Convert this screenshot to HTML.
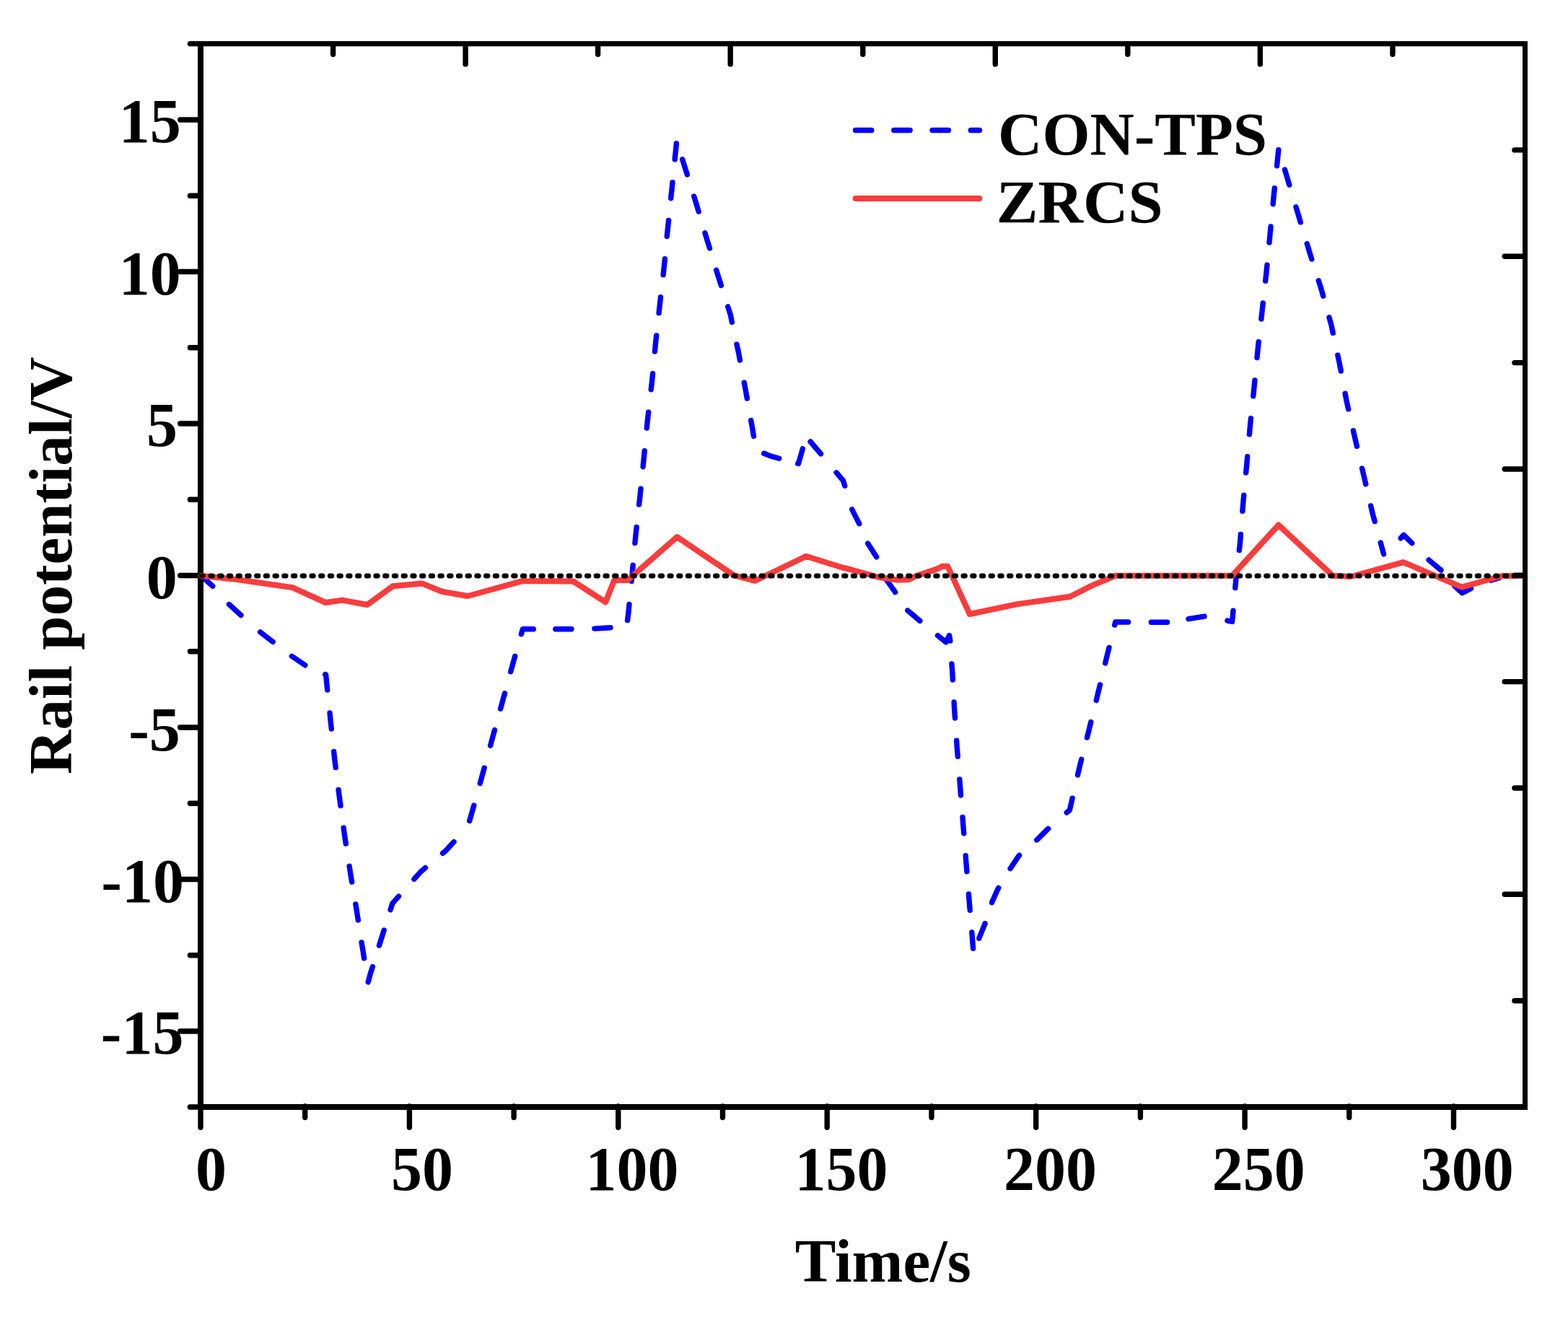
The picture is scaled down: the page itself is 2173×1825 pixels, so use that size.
<!DOCTYPE html>
<html lang="en"><head><meta charset="utf-8"><title>Rail potential: CON-TPS vs ZRCS</title>
<style>html,body{margin:0;padding:0;background:#fff;}svg{display:block;}text{font-family:"Liberation Serif","DejaVu Serif",serif;font-weight:bold;fill:#000;}</style>
</head><body>
<svg xmlns="http://www.w3.org/2000/svg" width="2173" height="1825" viewBox="0 0 2173 1825">
<rect x="0" y="0" width="2173" height="1825" fill="#ffffff"/>
<g fill="none" stroke-linejoin="round" stroke-linecap="round">
<g stroke="#0000ff" stroke-width="7.4">
<polyline points="278.5,797.8 294.8,812.3"/>
<polyline points="317.5,837.6 333.9,852.5"/>
<polyline points="360.6,875.8 378.1,889.4"/>
<polyline points="404.4,909.3 422.8,921.8"/>
<polyline points="450.7,934.5 451.6,934.9 453.7,956.0"/>
<polyline points="457.0,988.0 458.1,999.0 459.3,1010.1"/>
<polyline points="462.6,1041.5 463.8,1052.5 465.2,1063.6"/>
<polyline points="469.1,1094.5 470.5,1105.5 472.0,1116.6"/>
<polyline points="476.1,1147.1 477.6,1158.1 479.3,1169.1"/>
<polyline points="484.1,1200.3 485.8,1211.2 487.6,1222.2"/>
<polyline points="492.8,1253.0 494.6,1263.9 496.3,1274.9"/>
<polyline points="501.1,1306.0 502.9,1317.0 504.6,1327.9"/>
<polyline points="510.2,1360.9 513.0,1350.2 516.4,1339.6"/>
<polyline points="525.5,1310.1 528.8,1299.6 532.2,1289.0"/>
<polyline points="541.1,1260.6 543.8,1251.9 552.5,1242.1"/>
<polyline points="573.9,1218.2 582.9,1208.1 589.5,1202.5"/>
<polyline points="613.5,1182.4 618.1,1178.6 629.0,1166.6"/>
<polyline points="650.7,1137.4 653.8,1126.7 656.8,1116.0"/>
<polyline points="665.3,1085.5 668.2,1074.8 671.2,1064.1"/>
<polyline points="679.6,1033.1 682.5,1022.4 685.5,1011.6"/>
<polyline points="693.6,982.2 696.5,971.5 699.5,960.8"/>
<polyline points="707.7,930.7 710.7,920.0 713.7,909.3"/>
<polyline points="722.4,878.8 724.4,871.8 739.3,871.8"/>
<polyline points="769.8,871.8 792.0,871.8"/>
<polyline points="823.9,871.1 846.0,869.8"/>
<polyline points="869.6,859.6 871.0,848.5 872.0,837.5"/>
<polyline points="875.1,805.4 876.2,794.4 877.2,783.3"/>
<polyline points="879.9,752.5 881.0,741.4 882.2,730.4"/>
<polyline points="885.6,699.1 886.9,688.1 888.0,677.1"/>
<polyline points="891.1,646.7 892.2,635.7 893.3,624.7"/>
<polyline points="896.3,593.1 897.4,582.1 898.7,571.1"/>
<polyline points="902.2,539.8 903.5,528.8 904.6,517.7"/>
<polyline points="907.5,487.0 908.5,476.0 909.7,465.0"/>
<polyline points="913.1,433.9 914.3,422.9 915.5,411.8"/>
<polyline points="919.1,380.8 920.3,369.8 921.4,358.8"/>
<polyline points="924.3,327.5 925.4,316.5 926.6,305.5"/>
<polyline points="929.7,274.7 930.9,263.7 932.0,252.7"/>
<polyline points="935.2,220.9 937.4,198.8"/>
<polyline points="945.7,220.8 949.0,231.4 952.4,242.0"/>
<polyline points="961.7,272.0 965.0,282.6 968.2,293.2"/>
<polyline points="977.0,322.8 980.2,333.4 983.5,344.0"/>
<polyline points="992.7,374.3 996.0,384.9 999.4,395.5"/>
<polyline points="1008.7,424.9 1012.1,435.5 1014.4,446.4"/>
<polyline points="1021.0,477.2 1023.4,488.1 1025.4,499.0"/>
<polyline points="1031.3,530.2 1033.4,541.2 1035.3,552.1"/>
<polyline points="1040.7,582.6 1042.7,593.5 1044.5,604.4"/>
<polyline points="1058.7,628.3 1067.6,631.9 1079.7,635.2"/>
<polyline points="1105.7,642.3 1106.5,642.5 1112.3,621.9"/>
<polyline points="1123.1,612.0 1137.5,628.9"/>
<polyline points="1159.1,654.8 1168.6,666.2 1170.7,673.2"/>
<polyline points="1180.7,705.8 1190.7,725.6"/>
<polyline points="1202.6,753.1 1214.7,771.8"/>
<polyline points="1228.0,802.5 1228.4,803.4 1240.2,819.9 1240.7,820.7"/>
<polyline points="1257.8,846.0 1274.9,860.3"/>
<polyline points="1299.5,880.7 1311.0,889.8 1315.6,880.5 1316.8,888.0"/>
<polyline points="1318.9,919.9 1319.8,931.0 1320.4,942.0"/>
<polyline points="1322.1,972.9 1322.7,984.0 1323.5,995.1"/>
<polyline points="1325.6,1026.1 1326.4,1037.2 1327.3,1048.2"/>
<polyline points="1329.8,1079.9 1330.7,1091.0 1331.5,1102.0"/>
<polyline points="1334.0,1132.5 1334.8,1143.6 1335.7,1154.7"/>
<polyline points="1338.2,1185.6 1339.0,1196.7 1339.9,1207.8"/>
<polyline points="1342.4,1239.0 1343.3,1250.1 1344.2,1261.2"/>
<polyline points="1346.8,1292.0 1348.6,1314.2"/>
<polyline points="1356.8,1300.3 1356.8,1300.1 1365.1,1279.9 1365.1,1279.7"/>
<polyline points="1374.6,1250.7 1375.0,1249.5 1383.1,1231.5 1383.7,1230.4"/>
<polyline points="1400.1,1203.5 1400.5,1203.0 1412.1,1185.6 1412.6,1185.2"/>
<polyline points="1436.8,1163.9 1437.8,1163.1 1451.7,1149.2 1452.7,1148.4"/>
<polyline points="1478.2,1126.1 1482.4,1122.4 1486.1,1106.2"/>
<polyline points="1493.5,1073.9 1496.0,1063.1 1498.7,1052.3"/>
<polyline points="1506.5,1022.1 1509.2,1011.4 1511.8,1000.6"/>
<polyline points="1519.3,970.4 1521.9,959.6 1524.5,948.9"/>
<polyline points="1531.7,918.9 1534.3,908.1 1537.0,897.4"/>
<polyline points="1544.7,866.1 1545.7,861.9 1563.6,862.0"/>
<polyline points="1595.4,862.2 1617.6,862.3"/>
<polyline points="1647.1,857.7 1669.0,854.1"/>
<polyline points="1701.0,860.1 1707.6,861.5 1709.0,846.1"/>
<polyline points="1711.8,814.6 1712.8,803.5 1714.0,792.5"/>
<polyline points="1717.4,762.5 1718.6,751.5 1719.4,740.4"/>
<polyline points="1721.9,708.2 1722.8,697.1 1723.8,686.1"/>
<polyline points="1726.7,655.0 1727.8,643.9 1728.7,632.8"/>
<polyline points="1731.4,601.9 1732.4,590.8 1733.5,579.8"/>
<polyline points="1736.8,548.9 1737.9,537.9 1739.0,526.9"/>
<polyline points="1742.0,495.6 1743.1,484.6 1744.3,473.6"/>
<polyline points="1747.9,442.0 1749.1,430.9 1750.3,419.9"/>
<polyline points="1753.7,389.3 1754.9,378.3 1756.0,367.2"/>
<polyline points="1759.0,336.1 1760.0,325.1 1761.1,314.0"/>
<polyline points="1764.2,282.7 1765.2,271.7 1766.4,260.7"/>
<polyline points="1769.6,229.7 1771.8,207.6"/>
<polyline points="1780.5,235.0 1783.7,245.7 1786.8,256.3"/>
<polyline points="1796.0,286.8 1799.2,297.4 1802.3,308.0"/>
<polyline points="1811.3,337.8 1814.5,348.4 1817.8,359.0"/>
<polyline points="1827.3,388.9 1830.7,399.5 1833.7,410.2"/>
<polyline points="1842.0,439.8 1845.0,450.5 1847.3,461.4"/>
<polyline points="1853.9,492.2 1856.2,503.1 1858.3,514.0"/>
<polyline points="1864.1,545.3 1866.2,556.2 1868.7,567.0"/>
<polyline points="1875.4,596.8 1877.9,607.6 1880.4,618.4"/>
<polyline points="1887.6,649.2 1890.2,660.0 1892.7,670.8"/>
<polyline points="1899.7,700.9 1902.2,711.8 1905.2,722.5"/>
<polyline points="1913.3,752.0 1917.6,767.9"/>
<polyline points="1941.2,745.8 1945.3,741.3 1956.7,752.7"/>
<polyline points="1980.1,776.0 1997.0,790.2"/>
<polyline points="2015.5,811.8 2026.4,821.8 2038.5,815.4"/>
<polyline points="2066.0,804.2 2077.0,801.0"/>
</g>
<polyline points="278.5,797.8 330.0,803.2 405.2,814.1 451.2,835.0 474.0,831.6 508.8,838.0 544.3,812.2 584.5,808.4 612.6,819.8 648.1,826.0 722.9,805.3 794.2,805.4 839.1,834.4 851.3,803.9 869.8,803.9 938.3,744.0 981.5,773.4 1016.7,797.0 1046.0,805.0 1117.0,770.8 1167.5,786.5 1180.0,789.5 1218.0,800.0 1244.8,803.8 1260.0,802.9 1269.5,798.1 1298.0,788.6 1305.7,784.8 1313.3,784.8 1343.8,851.0 1408.6,837.4 1482.9,826.7 1513.3,811.4 1545.7,797.7 1707.6,797.7 1771.8,727.5 1846.7,797.7 1872.4,799.0 1944.8,779.1 2025.8,813.6 2081.7,798.0 2110.0,798.0" stroke="#fb3c3c" stroke-width="8" stroke-linecap="butt"/>
<line x1="279.2" y1="797.9" x2="2112" y2="797.9" stroke="#000" stroke-width="7.0" stroke-dasharray="2.4 10.32"/>
</g>
<g fill="#000" stroke="none">
<rect x="274" y="57" width="8" height="1481"/>
<rect x="2110" y="57" width="7" height="1481"/>
<rect x="274" y="57" width="1843" height="7.2"/>
<rect x="274" y="1530" width="1843" height="8"/>
</g>
<g fill="none" stroke="#000" stroke-linecap="round" stroke-width="7.4">
<line x1="278.0" y1="1533" x2="278.0" y2="1562.3"/>
<line x1="422.7" y1="1533" x2="422.7" y2="1548.6"/>
<line x1="567.4" y1="1533" x2="567.4" y2="1562.3"/>
<line x1="712.1" y1="1533" x2="712.1" y2="1548.6"/>
<line x1="856.8" y1="1533" x2="856.8" y2="1562.3"/>
<line x1="1001.5" y1="1533" x2="1001.5" y2="1548.6"/>
<line x1="1146.2" y1="1533" x2="1146.2" y2="1562.3"/>
<line x1="1291.0" y1="1533" x2="1291.0" y2="1548.6"/>
<line x1="1435.7" y1="1533" x2="1435.7" y2="1562.3"/>
<line x1="1580.4" y1="1533" x2="1580.4" y2="1548.6"/>
<line x1="1725.1" y1="1533" x2="1725.1" y2="1562.3"/>
<line x1="1869.8" y1="1533" x2="1869.8" y2="1548.6"/>
<line x1="2014.5" y1="1533" x2="2014.5" y2="1562.3"/>
<line x1="278.5" y1="1534.0" x2="263.4" y2="1534.0"/>
<line x1="278.5" y1="1429.0" x2="249.7" y2="1429.0"/>
<line x1="278.5" y1="1323.8" x2="263.4" y2="1323.8"/>
<line x1="278.5" y1="1218.5" x2="249.7" y2="1218.5"/>
<line x1="278.5" y1="1113.2" x2="263.4" y2="1113.2"/>
<line x1="278.5" y1="1008.0" x2="249.7" y2="1008.0"/>
<line x1="278.5" y1="902.8" x2="263.4" y2="902.8"/>
<line x1="278.5" y1="797.5" x2="249.7" y2="797.5"/>
<line x1="278.5" y1="692.2" x2="263.4" y2="692.2"/>
<line x1="278.5" y1="587.0" x2="249.7" y2="587.0"/>
<line x1="278.5" y1="481.8" x2="263.4" y2="481.8"/>
<line x1="278.5" y1="376.5" x2="249.7" y2="376.5"/>
<line x1="278.5" y1="271.2" x2="263.4" y2="271.2"/>
<line x1="278.5" y1="166.0" x2="249.7" y2="166.0"/>
<line x1="278.5" y1="60.6" x2="263.4" y2="60.6"/>
<line x1="461.6" y1="61.2" x2="461.6" y2="75.2"/>
<line x1="645.1" y1="61.2" x2="645.1" y2="88.9"/>
<line x1="828.6" y1="61.2" x2="828.6" y2="75.2"/>
<line x1="1012.2" y1="61.2" x2="1012.2" y2="88.9"/>
<line x1="1195.8" y1="61.2" x2="1195.8" y2="75.2"/>
<line x1="1379.3" y1="61.2" x2="1379.3" y2="88.9"/>
<line x1="1562.8" y1="61.2" x2="1562.8" y2="75.2"/>
<line x1="1746.4" y1="61.2" x2="1746.4" y2="88.9"/>
<line x1="1930.0" y1="61.2" x2="1930.0" y2="75.2"/>
<line x1="2113" y1="207.9" x2="2098.9" y2="207.9"/>
<line x1="2113" y1="355.3" x2="2085.2" y2="355.3"/>
<line x1="2113" y1="502.6" x2="2098.9" y2="502.6"/>
<line x1="2113" y1="650.0" x2="2085.2" y2="650.0"/>
<line x1="2113" y1="797.3" x2="2098.9" y2="797.3"/>
<line x1="2113" y1="944.6" x2="2085.2" y2="944.6"/>
<line x1="2113" y1="1092.0" x2="2098.9" y2="1092.0"/>
<line x1="2113" y1="1239.3" x2="2085.2" y2="1239.3"/>
<line x1="2113" y1="1386.7" x2="2098.9" y2="1386.7"/>
</g>
<ellipse cx="280.2" cy="797.8" rx="5.4" ry="3.6" fill="none" stroke="#fb3c3c" stroke-width="0.9"/>
<g fill="none">
<line x1="1185.5" y1="180.6" x2="1357.4" y2="180.6" stroke="#0000ff" stroke-width="7.5" stroke-linecap="round" stroke-dasharray="22.3 31"/>
<line x1="1185.5" y1="274.9" x2="1357.4" y2="274.9" stroke="#fb3c3c" stroke-width="8" stroke-linecap="round"/>
</g>
<g font-size="85">
<text x="270.9" y="1648.8" font-size="86">0</text>
<text x="542.0" y="1648.8" font-size="86">50</text>
<text x="811.6" y="1648.8" font-size="86">100</text>
<text x="1101.5" y="1648.8" font-size="86">150</text>
<text x="1390.9" y="1648.8" font-size="86">200</text>
<text x="1679.7" y="1648.8" font-size="86">250</text>
<text x="1968.7" y="1648.8" font-size="86">300</text>
<text x="164.7" y="197.2" font-size="86">15</text>
<text x="164.7" y="408.0" font-size="86">10</text>
<text x="202.9" y="618.4" font-size="86">5</text>
<text x="202.8" y="828.9" font-size="86">0</text>
<text x="178.2" y="1039.5" font-size="86">-5</text>
<text x="140.3" y="1250.0" font-size="86">-10</text>
<text x="139.8" y="1460.0" font-size="86">-15</text>
<text x="1101.8" y="1775.7" font-size="85">Time/s</text>
<text x="1383.0" y="214.6" font-size="85">CON-TPS</text>
<text x="1380.8" y="308.7" font-size="85" textLength="231.0" lengthAdjust="spacingAndGlyphs">ZRCS</text>
<text transform="translate(99.2,1073.0) rotate(-90)">Rail potential/V</text>
</g>
</svg>
</body></html>
